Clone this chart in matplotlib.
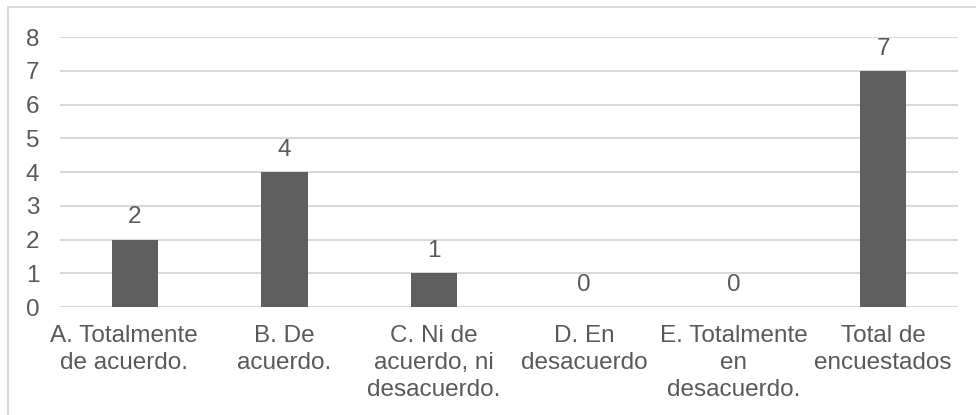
import matplotlib.pyplot as plt
from matplotlib.patches import Rectangle
from matplotlib.transforms import ScaledTranslation

categories = [
    "A. Totalmente\nde acuerdo.",
    "B. De\nacuerdo.",
    "C. Ni de\nacuerdo, ni\ndesacuerdo.",
    "D. En\ndesacuerdo",
    "E. Totalmente\nen\ndesacuerdo.",
    "Total de\nencuestados",
]
counts = [2, 4, 1, 0, 0, 7]
y_ticks = list(range(0, 9))

BAR = "#5f5f5f"
TEXT = "#595959"
GRID = "#d9d9d9"
FS = 17.5

plt.rcParams["font.family"] = ["Liberation Sans", "DejaVu Sans"]

W, H = 976, 415
fig = plt.figure(figsize=(W / 100, H / 100), dpi=100)
fig.patch.set_facecolor("white")

# chart frame, only its top/left edges fall inside the canvas
fig.patches.append(
    Rectangle((8 / W, -0.1), 1.2, 1 - 7 / H + 0.1, transform=fig.transFigure,
              fill=False, edgecolor=GRID, linewidth=1.5)
)

ax = fig.add_axes([60 / W, 1 - 307 / H, (958 - 60) / W, (307 - 37) / H])
x = range(len(categories))
bars = ax.bar(x, counts, width=0.31, color=BAR, zorder=3)

for xi, v in zip(x, counts):
    ax.annotate(str(v), (xi, v), xytext=(0, 8), textcoords="offset points",
                ha="center", va="bottom", fontsize=FS, color=TEXT)

ax.set_xlim(-0.5, len(categories) - 0.5)
ax.set_ylim(0, 8)
ax.set_yticks(y_ticks)
ax.set_xticks(list(x))
ax.set_xticklabels(categories, linespacing=1.28)
ax.tick_params(axis="y", length=0, pad=15, labelsize=FS, labelcolor=TEXT)
ax.tick_params(axis="x", length=0, pad=13, labelsize=FS, labelcolor=TEXT)
ax.grid(axis="y", color=GRID, linewidth=1.5, zorder=0)
for s in ax.spines.values():
    s.set_visible(False)

# first category label sits a little left of its bar
first = ax.get_xticklabels()[0]
first.set_transform(first.get_transform() + ScaledTranslation(-11 / 100, 0, fig.dpi_scale_trans))

fig.savefig("out.png", dpi=100, facecolor="white")
